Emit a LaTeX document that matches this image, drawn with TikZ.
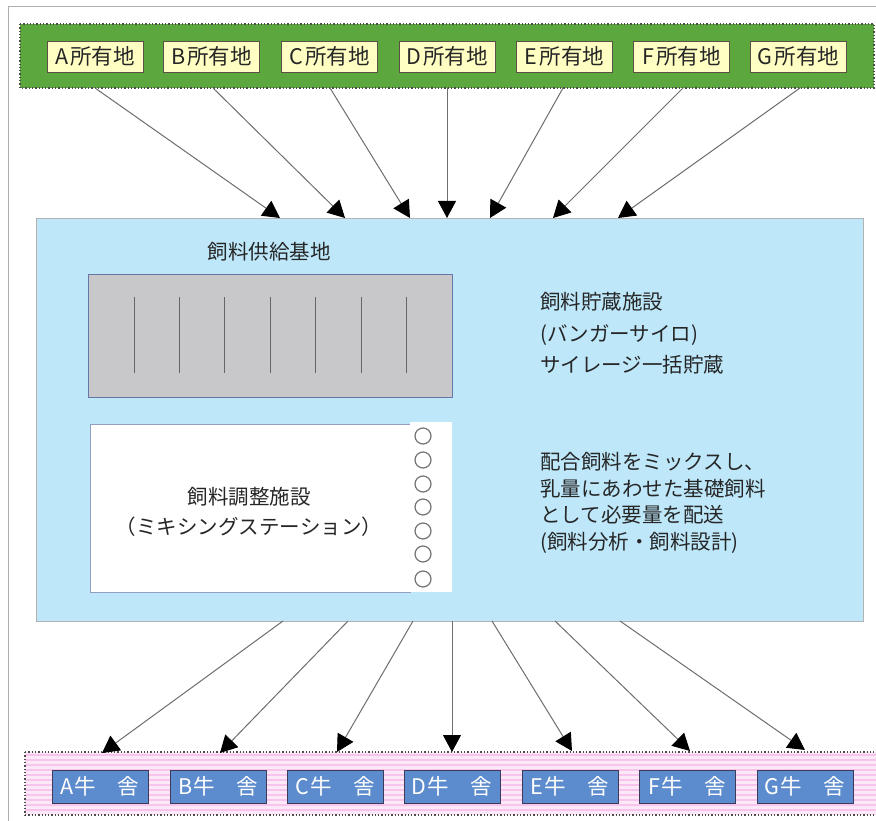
\documentclass[tikz,border=0pt]{standalone}
\usepackage{fontspec}
\setmainfont{Noto Sans CJK JP}
\usetikzlibrary{arrows.meta}
\definecolor{framegray}{RGB}{175,175,175}
\definecolor{barGreen}{RGB}{92,168,62}
\definecolor{labelYellow}{RGB}{255,255,196}
\definecolor{labelEdge}{RGB}{90,80,70}
\definecolor{baseBlue}{RGB}{190,232,250}
\definecolor{storeGray}{RGB}{200,200,202}
\definecolor{storeEdge}{RGB}{100,120,170}
\definecolor{cowBlue}{RGB}{92,140,205}
\definecolor{cowEdge}{RGB}{60,60,90}
\definecolor{pinkA}{RGB}{252,232,246}
\definecolor{pinkB}{RGB}{246,196,236}
\definecolor{lineGray}{RGB}{110,110,110}
\tikzset{
  farmlabel/.style={draw=labelEdge, line width=0.8pt, fill=labelYellow, minimum width=96pt, minimum height=31pt, inner sep=0pt, text=black!85, font=\fontsize{21.5}{24}\selectfont},
  cowbox/.style={draw=cowEdge, line width=0.8pt, fill=cowBlue, minimum width=96pt, minimum height=33pt, inner sep=0pt, text=white, font=\fontsize{21.5}{24}\selectfont},
  bodytext/.style={inner sep=0pt, text=black!85, font=\fontsize{20.5}{24}\selectfont},
  feedarrow/.style={draw=lineGray, line width=1pt, -{Triangle[length=17pt,width=18pt,color=black]}},
  barborder/.style={draw=black!70, dotted, line width=1.3pt},
  silocircle/.style={draw=black!55, line width=1.2pt}
}
\begin{document}
\begin{tikzpicture}[x=1pt,y=-1pt]
\useasboundingbox (0,0) rectangle (876,821);
\fill[white] (0,0) rectangle (876,821);
% outer frame lines
\draw[framegray, line width=1pt] (8,821) -- (8,7) -- (876,7);

% green bar
\fill[barGreen] (20,24) rectangle (874,88);
\draw[barborder] (20,24) rectangle (874,88);
\node[farmlabel] (fA) at (95,56.5) {A\hspace{2pt}所有地};
\node[farmlabel] (fB) at (211.5,56.5) {B\hspace{2pt}所有地};
\node[farmlabel] (fC) at (329.5,56.5) {C\hspace{2pt}所有地};
\node[farmlabel] (fD) at (447,56.5) {D\hspace{2pt}所有地};
\node[farmlabel] (fE) at (564.5,56.5) {E\hspace{2pt}所有地};
\node[farmlabel] (fF) at (681.5,56.5) {F\hspace{2pt}所有地};
\node[farmlabel] (fG) at (798.5,56.5) {G\hspace{2pt}所有地};

% central base
\fill[baseBlue] (36,218) rectangle (863,621);
\draw[black!30, line width=0.6pt] (36,218) rectangle (863,621);
\node[bodytext] (baseTitle) at (269,252) {飼料供給基地};

% storage (bunker silo)
\fill[storeGray] (88,274) rectangle (452,397);
\draw[storeEdge, line width=0.8pt] (88,274) rectangle (452,397);
\foreach \xx in {134,179,224,270,315,361,406}
  \draw[black!60, line width=0.9pt] (\xx,297) -- (\xx,373);

\node[bodytext, anchor=west, align=left, font=\fontsize{20.5}{31.5}\selectfont] (storeText) at (540,333.5)
  {飼料貯蔵施設\\(バンガーサイロ)\\サイレージ一括貯蔵};

% mixing station
\fill[white] (90,424) rectangle (410,592);
\draw[storeEdge!70, line width=0.6pt] (90,424) rectangle (410,592);
\fill[white] (410,422) rectangle (452,592);
\node[bodytext, align=center, font=\fontsize{20.5}{30}\selectfont] (mixText) at (249,512)
  {飼料調整施設\\（ミキシングステーション）};
\foreach \yy in {436,460,484,507,531,554,579}
  \draw[silocircle] (423,\yy) circle (8);

\node[bodytext, anchor=west, align=left, font=\fontsize{20.5}{26.7}\selectfont] (mixDesc) at (540,503)
  {配合飼料をミックスし、\\乳量にあわせた基礎飼料\\として必要量を配送\\(飼料分析・飼料設計)};

% pink bar
\fill[pinkA] (25,752) rectangle (876,815);
\foreach \yy in {755,760,...,814}
  \draw[pinkB, line width=2pt] (25,\yy) -- (876,\yy);
\draw[barborder] (25,752) -- (876,752);
\draw[barborder] (25,815) -- (876,815);
\draw[barborder] (25,752) -- (25,815);
\node[cowbox] (cA) at (100,786.5) {A\hspace{1pt}牛　舎};
\node[cowbox] (cB) at (218,786.5) {B\hspace{1pt}牛　舎};
\node[cowbox] (cC) at (335,786.5) {C\hspace{1pt}牛　舎};
\node[cowbox] (cD) at (452,786.5) {D\hspace{1pt}牛　舎};
\node[cowbox] (cE) at (570,786.5) {E\hspace{1pt}牛　舎};
\node[cowbox] (cF) at (687.5,786.5) {F\hspace{1pt}牛　舎};
\node[cowbox] (cG) at (805,786.5) {G\hspace{1pt}牛　舎};

% top arrows
\coordinate (sA) at (95,88);   \coordinate (tA) at (280,218);
\coordinate (sB) at (213,88);  \coordinate (tB) at (345,218);
\coordinate (sC) at (330,88);  \coordinate (tC) at (410,218);
\coordinate (sD) at (447,88);  \coordinate (tD) at (447,218);
\coordinate (sE) at (563,88);  \coordinate (tE) at (490,218);
\coordinate (sF) at (683,88);  \coordinate (tF) at (553,218);
\coordinate (sG) at (800,88);  \coordinate (tG) at (618,218);
\foreach \k in {A,B,C,D,E,F,G}
  \draw[feedarrow] (s\k) -- (t\k);

% bottom arrows
\coordinate (uA) at (283,621);  \coordinate (vA) at (102,753);
\coordinate (uB) at (348,621);  \coordinate (vB) at (220,753);
\coordinate (uC) at (413,621);  \coordinate (vC) at (337,752);
\coordinate (uD) at (452,621);  \coordinate (vD) at (452,752);
\coordinate (uE) at (492,621);  \coordinate (vE) at (572,751);
\coordinate (uF) at (555,621);  \coordinate (vF) at (690,751);
\coordinate (uG) at (620,621);  \coordinate (vG) at (805,750);
\foreach \k in {A,B,C,D,E,F,G}
  \draw[feedarrow] (u\k) -- (v\k);
\end{tikzpicture}
\end{document}
